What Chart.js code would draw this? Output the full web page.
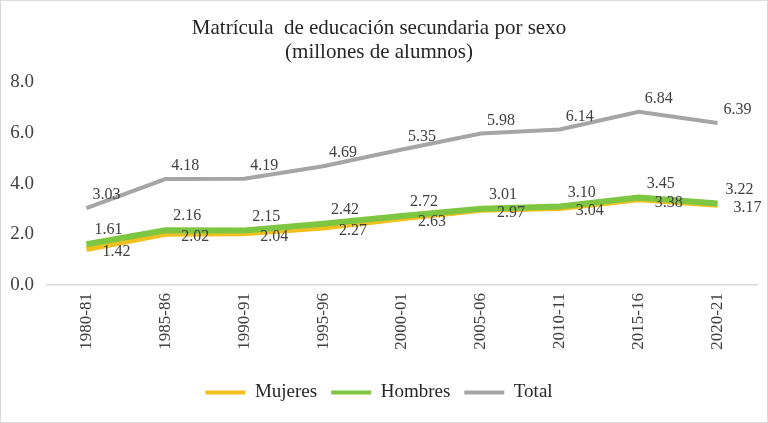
<!DOCTYPE html>
<html>
<head>
<meta charset="utf-8">
<script src="https://cdn.jsdelivr.net/npm/chart.js@4"></script>
<style>
  html, body { margin: 0; padding: 0; background: #fff; }
  #wrap { width: 768px; height: 423px; position: relative; box-sizing: border-box; border: 1px solid #d9d9d9; }
</style>
</head>
<body>
<div id="wrap"><canvas id="lineChart" width="766" height="421"></canvas></div>
<script>
const categories = ["1980-81", "1985-86", "1990-91", "1995-96", "2000-01", "2005-06", "2010-11", "2015-16", "2020-21"];
const mujeres = [1.42, 2.02, 2.04, 2.27, 2.63, 2.97, 3.04, 3.38, 3.17];
const hombres = [1.61, 2.16, 2.15, 2.42, 2.72, 3.01, 3.10, 3.45, 3.22];
const total = [3.03, 4.18, 4.19, 4.69, 5.35, 5.98, 6.14, 6.84, 6.39];
const titleLines = ["Matrícula  de educación secundaria por sexo", "(millones de alumnos)"];

const serif = "'Liberation Serif', 'Times New Roman', serif";

// draws the value next to each point, offsets per series
const valueLabels = {
    id: "valueLabels",
    afterDatasetsDraw(chart) {
        const ctx = chart.ctx;
        ctx.save();
        ctx.font = "16px " + serif;
        ctx.fillStyle = "#404040";
        ctx.textAlign = "center";
        ctx.textBaseline = "middle";
        chart.data.datasets.forEach((ds, i) => {
            const meta = chart.getDatasetMeta(i);
            const off = ds.labelOffset;
            meta.data.forEach((pt, j) => {
                ctx.fillText(ds.data[j].toFixed(2), pt.x + off[0], pt.y + off[1]);
            });
        });
        ctx.restore();
    }
};

let lineChartInstance = null;

function loadLineChart() {

    const ctx = document.getElementById("lineChart");
    if (!ctx) return;

    if (lineChartInstance) lineChartInstance.destroy();

    lineChartInstance = new Chart(ctx, {
        type: "line",
        data: {
            labels: categories,
            datasets: [{
                label: "Mujeres",
                data: mujeres,
                borderColor: "#f2c01e",
                backgroundColor: "#f2c01e",
                borderWidth: 6,
                pointRadius: 0,
                order: 3,
                labelOffset: [30, 3]
            }, {
                label: "Hombres",
                data: hombres,
                borderColor: "#7cc642",
                backgroundColor: "#7cc642",
                borderWidth: 6,
                pointRadius: 0,
                order: 2,
                labelOffset: [22, -14]
            }, {
                label: "Total",
                data: total,
                borderColor: "#a5a5a5",
                backgroundColor: "#a5a5a5",
                borderWidth: 4,
                pointRadius: 0,
                order: 1,
                labelOffset: [20, -13]
            }]
        },
        options: {
            responsive: false,
            animation: false,
            layout: { padding: { left: 0, right: 10, top: 0, bottom: 10 } },
            plugins: {
                title: {
                    display: true,
                    text: titleLines,
                    color: "#262626",
                    font: { family: serif, size: 21, weight: "normal", lineHeight: 1.15 },
                    padding: { top: 15, bottom: 18 }
                },
                legend: {
                    position: "bottom",
                    labels: {
                        color: "#262626",
                        font: { family: serif, size: 19 },
                        boxWidth: 40,
                        boxHeight: 4,
                        padding: 14,
                        sort: (a, b) => a.datasetIndex - b.datasetIndex,
                        generateLabels(chart) {
                            const items = Chart.defaults.plugins.legend.labels.generateLabels(chart);
                            items.forEach(it => { it.lineWidth = 0; it.fillStyle = it.strokeStyle; });
                            return items;
                        }
                    }
                },
                tooltip: { enabled: false }
            },
            scales: {
                x: {
                    offset: true,
                    grid: { display: false, drawTicks: false },
                    border: { display: true, color: "#d9d9d9", width: 1.5 },
                    ticks: {
                        color: "#404040",
                        font: { family: serif, size: 17 },
                        minRotation: 90,
                        maxRotation: 90,
                        padding: 8
                    },
                    afterFit(scale) { scale.height = 84; }
                },
                y: {
                    min: 0,
                    max: 8,
                    grid: { display: false, drawTicks: false },
                    border: { display: false },
                    ticks: {
                        stepSize: 2,
                        color: "#404040",
                        font: { family: serif, size: 19 },
                        padding: 13,
                        callback: v => v.toFixed(1)
                    },
                    afterFit(scale) { scale.width = 46; }
                }
            }
        },
        plugins: [valueLabels]
    });
}

document.addEventListener("DOMContentLoaded", () => {
    loadLineChart();
});
</script>
</body>
</html>
